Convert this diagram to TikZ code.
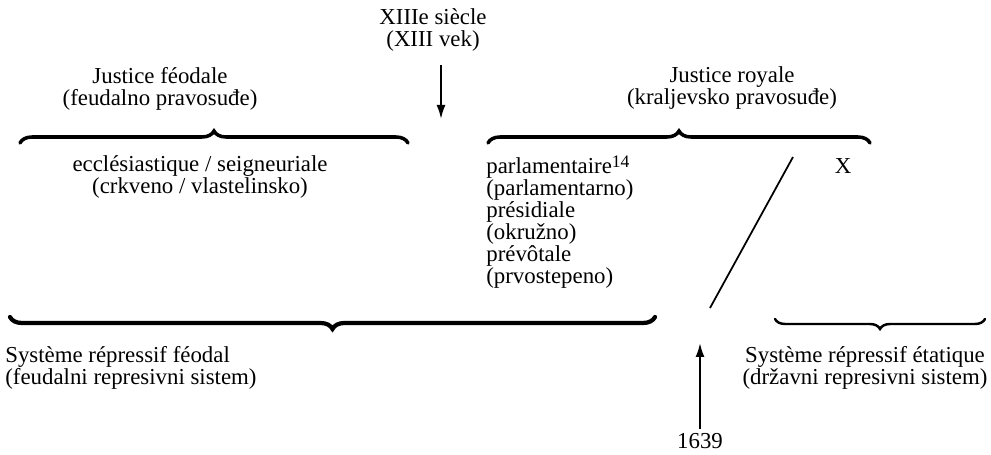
\documentclass[tikz,border=0pt]{standalone}
\usepackage{fontspec}
\setmainfont{Liberation Serif}
\usetikzlibrary{arrows.meta,decorations.pathreplacing,positioning}

\tikzset{
  txt/.style={align=center,inner sep=0pt,font=\fontsize{13}{12.5}\selectfont},
  bracket/.style={decorate,decoration={brace,amplitude=0.24cm},line width=2pt,line cap=round},
  pointer/.style={line width=0.04cm,-{Latex[length=0.28cm,width=0.18cm]}}
}

\begin{document}
\begin{tikzpicture}[x=0.02cm,y=-0.02cm]
  \useasboundingbox (0,0) rectangle (991,455);

  % Marking the dates
  \node [txt] (xiii) at (433,30) {XIIIe siècle\\(XIII vek)};
  \node [txt] (year) at (700,441) {1639};

  % Marking the two justices
  \node [txt] (feodtitle) at (160,89) {Justice féodale\\(feudalno pravosuđe)};
  \node [txt] (roytitle) at (732,88) {Justice royale\\(kraljevsko pravosuđe)};

  % Drawing brace over the feudal justice
  \coordinate (fa) at (20,143);
  \coordinate (fb) at (408,143);
  \draw [bracket] (fa) -- (fb);

  % Drawing brace over the royal justice
  \coordinate (ra) at (488,143);
  \coordinate (rb) at (870,143);
  \draw [bracket] (ra) -- (rb);

  % Marking the kinds of justice
  \node [txt] (eccl) at (200,177) {ecclésiastique / seigneuriale\\(crkveno / vlastelinsko)};
  \node [txt,align=left,anchor=north west] (parl) at (486,156)
    {parlamentaire\raisebox{0.55ex}{\fontsize{10}{10}\selectfont 14}\\(parlamentarno)\\présidiale\\(okružno)\\prévôtale\\(prvostepeno)};
  \node [txt] (x) at (843,166) {X};

  % Drawing segment through the royal brace
  \coordinate (sa) at (793,157);
  \coordinate (sb) at (710,308);
  \draw [line width=0.035cm] (sa) -- (sb);

  % Drawing brace under the feudal system
  \coordinate (ga) at (10,317);
  \coordinate (gb) at (655,317);
  \draw [bracket,line width=2.4pt] (gb) -- (ga);

  % Drawing brace under the state system
  \coordinate (ha) at (775,319);
  \coordinate (hb) at (985,319);
  \draw [bracket,line width=1.4pt,decoration={amplitude=0.2cm}] (hb) -- (ha);

  % Marking the two systems
  \node [txt,align=left,anchor=west] (sysfeod) at (5,368) {Système répressif féodal\\(feudalni represivni sistem)};
  \node [txt] (sysetat) at (865,368) {Système répressif étatique\\(državni represivni sistem)};

  % Drawing arrows
  \coordinate (downtop) at (441,65);
  \coordinate (downtip) at (441,119);
  \draw [pointer] (downtop) -- (downtip);
  \coordinate (uptop) at (700,343);
  \draw [pointer] (year.north) ++(0,-4) -- (uptop);
\end{tikzpicture}
\end{document}
